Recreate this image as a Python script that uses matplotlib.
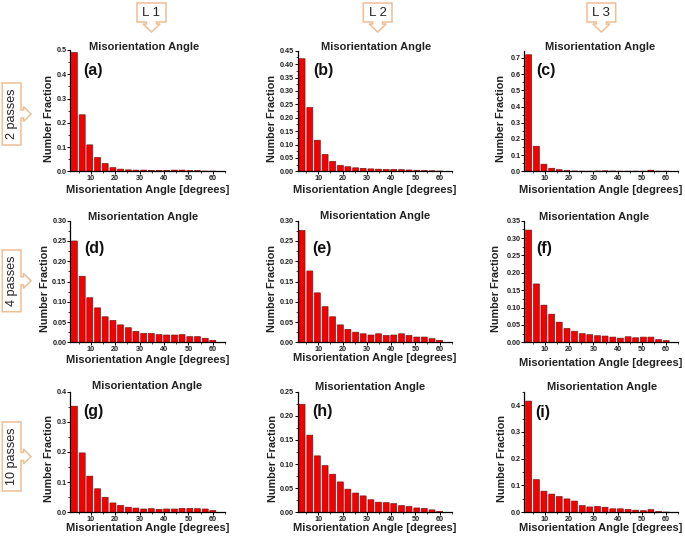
import matplotlib
matplotlib.use("Agg")
import matplotlib.pyplot as plt
from matplotlib.patches import Polygon
from matplotlib.ticker import MultipleLocator, FormatStrFormatter

plt.rcParams['font.family'] = ['Liberation Sans', 'DejaVu Sans']

RED = '#f50000'
EDGE = '#7a1010'
TAN = '#eebf94'

angles = [3.3, 6.5, 9.6, 12.8, 15.9, 19.1, 22.2, 25.4, 28.5, 31.7,
          34.8, 38.0, 41.1, 44.3, 47.4, 50.6, 53.7, 56.9, 60.0]

frac_a = [.490, .233, .109, .057, .032, .015, .009, .006, .005, .005,
          .004, .004, .004, .005, .005, .003, .003, .001, .001]
frac_b = [.420, .238, .116, .063, .037, .022, .017, .013, .011, .009,
          .008, .007, .007, .006, .005, .004, .003, .002, .001]
frac_c = [.720, .155, .044, .019, .010, .005, .002, .001, .001, .002,
          .003, .002, .001, .001, .001, .001, .007, .001, .001]
frac_d = [.250, .163, .110, .085, .063, .054, .043, .036, .027, .022,
          .022, .019, .018, .018, .019, .014, .014, .010, .005]
frac_e = [.276, .176, .122, .088, .063, .043, .032, .025, .021, .018,
          .021, .017, .018, .021, .017, .013, .013, .009, .005]
frac_f = [.323, .168, .107, .081, .058, .040, .032, .025, .022, .019,
          .018, .015, .012, .016, .013, .015, .015, .008, .005]
frac_g = [.352, .197, .120, .078, .050, .031, .023, .017, .014, .011,
          .012, .010, .011, .011, .013, .013, .012, .011, .006]
frac_h = [.224, .160, .117, .097, .079, .063, .048, .040, .034, .026,
          .021, .020, .018, .014, .012, .009, .008, .005, .002]
frac_i = [.415, .122, .079, .068, .059, .050, .042, .025, .020, .022,
          .019, .013, .013, .011, .008, .006, .010, .003, .001]

W, H = 685, 537

# name, values, ymax, major step, format, axes box (l, r, t, b) in pixels,
# title xy, xlabel xy, ylabel xy, letter xy
panels = [
  ('(a)', frac_a, 0.50, 0.1, '%.1f', (70, 225, 50, 171.3), (144, 47), (147.7, 190), (49, 118), (92.7, 70.7)),
  ('(b)', frac_b, 0.45, 0.05, '%.2f', (297.7, 451.7, 50.7, 171.3), (375.7, 47), (374.7, 190), (271.7, 118), (323, 71)),
  ('(c)', frac_c, 0.745, 0.1, '%.1f', (524.3, 678.3, 50.7, 171.3), (599.7, 46.7), (601, 190), (500.7, 118), (545.7, 71)),
  ('(d)', frac_d, 0.30, 0.05, '%.2f', (70, 225, 220.7, 342.3), (143, 216.7), (147.7, 360), (45, 288), (94, 248)),
  ('(e)', frac_e, 0.30, 0.05, '%.2f', (297.7, 451.7, 220.7, 342.3), (375, 216), (374.7, 358), (271.7, 288), (322, 248)),
  ('(f)', frac_f, 0.35, 0.05, '%.2f', (524.3, 678.3, 220.7, 342.3), (594, 217), (601, 363.3), (496, 288), (544, 248)),
  ('(g)', frac_g, 0.40, 0.1, '%.1f', (70, 225, 391.7, 512.3), (146.7, 386), (147.7, 528), (49, 458), (93, 411.7)),
  ('(h)', frac_h, 0.25, 0.05, '%.2f', (297.7, 451.7, 391.7, 512.3), (370, 387), (374.7, 528), (273, 458), (322, 411.7)),
  ('(i)', frac_i, 0.45, 0.1, '%.1f', (524.3, 678.3, 391.7, 512.3), (601.7, 387), (601, 528), (502, 458), (543, 412)),
]

fig = plt.figure(figsize=(W / 100, H / 100), dpi=100)

# overlay in image pixels, for the callouts and the text placement
over = fig.add_axes([0, 0, 1, 1], zorder=5)
over.set_xlim(0, W)
over.set_ylim(H, 0)
over.axis('off')


def draw_panel(name, vals, ymax, step, fmt, box, title_xy, xlab_xy, ylab_xy, let_xy):
  l, r, t, b = box
  ax = fig.add_axes([l / W, 1 - b / H, (r - l) / W, (b - t) / H])
  bars = ax.bar(angles, vals, width=2.45, color=RED, edgecolor=EDGE, linewidth=0.45)
  for bar in bars:
    bar.set_snap(False)
  ax.set_xlim(1.5, 65)
  ax.set_ylim(0, ymax)
  ax.spines['top'].set_visible(False)
  ax.spines['right'].set_visible(False)
  ax.spines['left'].set_linewidth(0.9)
  ax.spines['bottom'].set_linewidth(0.9)
  ax.xaxis.set_major_locator(MultipleLocator(10))
  ax.xaxis.set_minor_locator(MultipleLocator(5))
  ax.yaxis.set_major_locator(MultipleLocator(step))
  ax.yaxis.set_minor_locator(MultipleLocator(step / 2))
  ax.yaxis.set_major_formatter(FormatStrFormatter(fmt))
  ax.tick_params(which='major', length=2, width=0.7, pad=0.6, labelsize=5.2)
  ax.tick_params(which='minor', length=1.2, width=0.5)
  for lab in ax.get_xticklabels() + ax.get_yticklabels():
    lab.set_fontweight('bold')
    lab.set_color('#222222')

  ax.set_xlabel('Misorientation Angle [degrees]', fontsize=8, fontweight='bold', color='#222222')
  ax.xaxis.set_label_coords(xlab_xy[0], xlab_xy[1], transform=over.transData)
  ax.xaxis.label.set_verticalalignment('center')
  ax.set_ylabel('Number Fraction', fontsize=7.8, fontweight='bold', color='#222222')
  ax.yaxis.set_label_coords(ylab_xy[0], ylab_xy[1], transform=over.transData)
  ax.yaxis.label.set_verticalalignment('center')
  over.text(title_xy[0], title_xy[1], 'Misorientation Angle', fontsize=8, fontweight='bold',
            color='#222222', ha='center', va='center')
  over.text(let_xy[0], let_xy[1], name, fontsize=11.5, fontweight='bold', color='#111111',
            ha='center', va='center')


def down_callout(x0, x1, label):
  # box with an arrow pointing down at the column
  c = (x0 + x1) / 2
  pts = [(x0, 3), (x1, 3), (x1, 22), (c + 5, 22), (c + 5, 24), (c + 8.5, 24), (c, 32),
         (c - 8.5, 24), (c - 5, 24), (c - 5, 22), (x0, 22)]
  over.add_patch(Polygon(pts, closed=True, facecolor='white', edgecolor=TAN, linewidth=1.1))
  over.text(c, 12.5, label, fontsize=9.5, color='#222222', ha='center', va='center')


def right_callout(y0, y1, label):
  # box with an arrow pointing right at the row
  c = (y0 + y1) / 2
  x0, x1 = 2.3, 21
  pts = [(x0, y0), (x1, y0), (x1, c - 4), (23.5, c - 4), (23.5, c - 7.5), (31, c), (23.5, c + 7.5),
         (23.5, c + 4), (x1, c + 4), (x1, y1), (x0, y1)]
  over.add_patch(Polygon(pts, closed=True, facecolor='white', edgecolor=TAN, linewidth=1.1))
  over.text((x0 + x1) / 2, c, label, fontsize=9, color='#222222', rotation=90, ha='center', va='center')


for p in panels:
  draw_panel(*p)

down_callout(137, 166, 'L 1')
down_callout(363.3, 392, 'L 2')
down_callout(587, 615.7, 'L 3')
right_callout(83, 145, '2 passes')
right_callout(250, 311.7, '4 passes')
right_callout(422, 491, '10 passes')

fig.savefig('out.png', dpi=100)
